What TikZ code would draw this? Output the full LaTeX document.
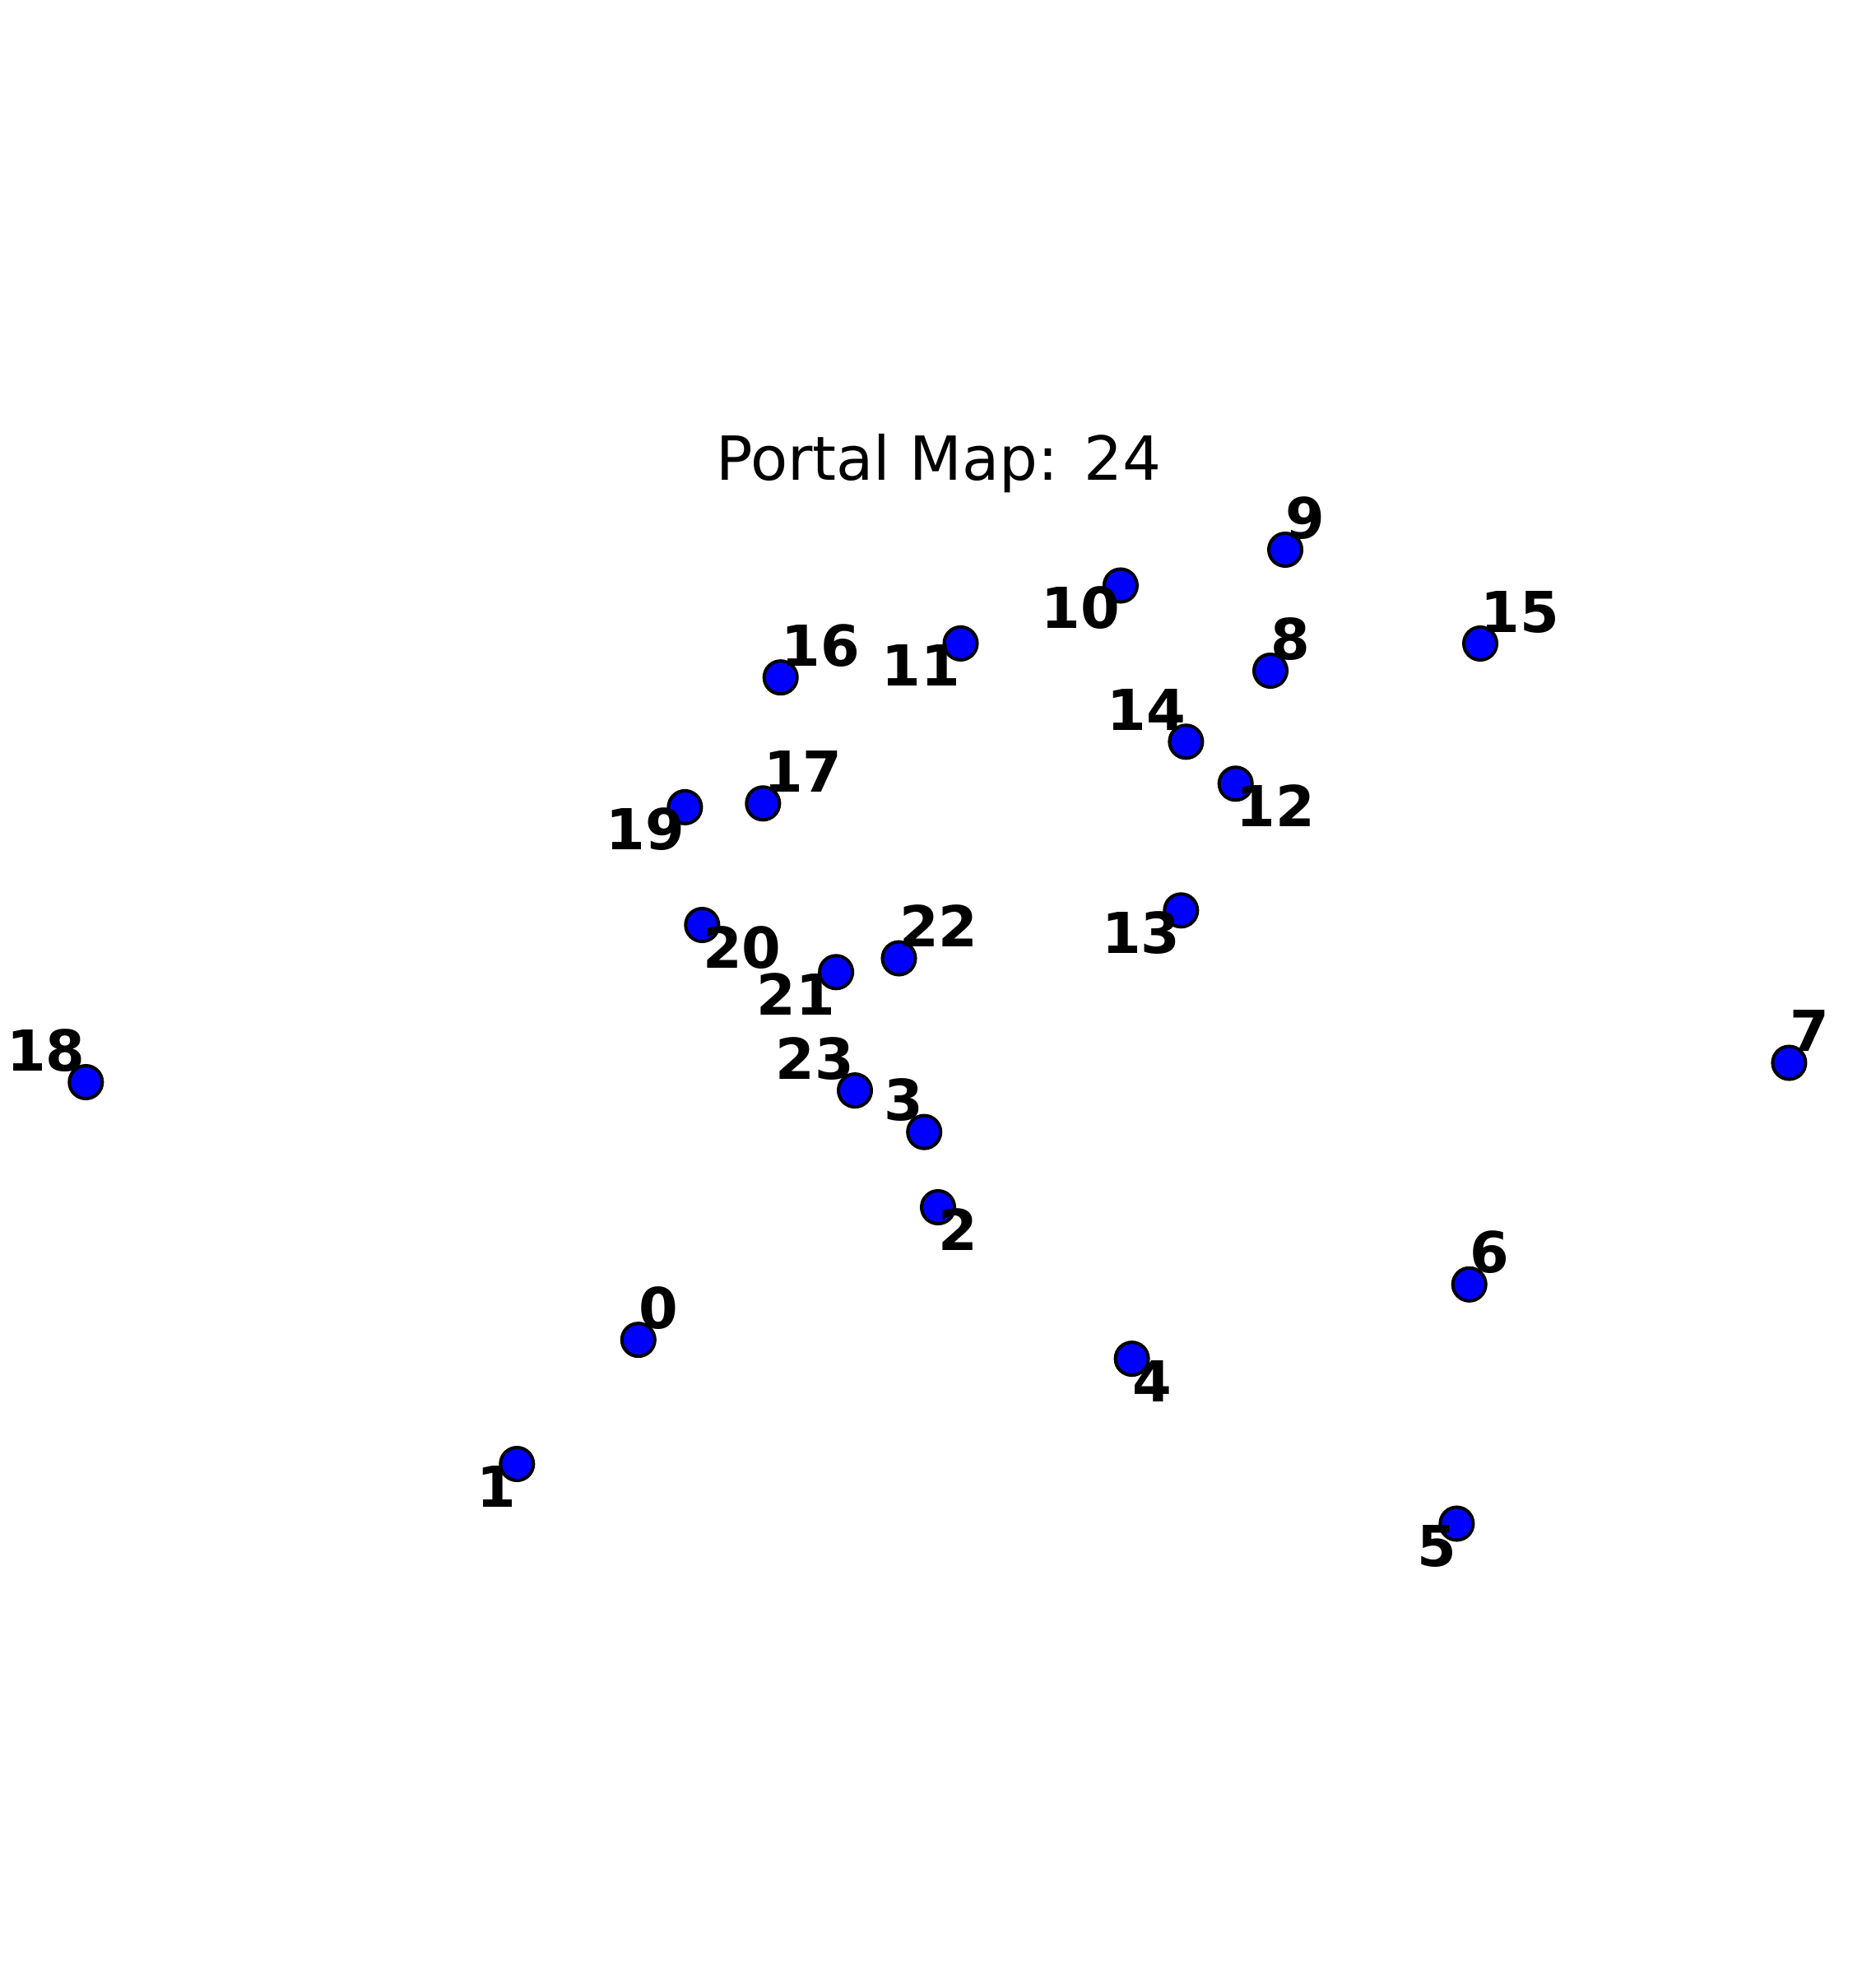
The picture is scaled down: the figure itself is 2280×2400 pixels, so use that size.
\documentclass[tikz,border=0pt]{standalone}
\usepackage{fontspec}
\setmainfont{DejaVu Sans}
\begin{document}
\begin{tikzpicture}[x=0.01cm,y=-0.01cm,
  dot/.style={circle,draw=black,fill=blue,line width=1.15pt,minimum size=0.4cm,inner sep=0pt},
  lab/.style={inner sep=0pt,font=\fontsize{19.5}{20}\selectfont\bfseries},
  ttl/.style={inner sep=0pt,font=\fontsize{21}{22}\selectfont}]
\useasboundingbox[fill=white] (0,0) rectangle (2280,2400);
\node[ttl,anchor=base] (title) at (1141,583) {Portal Map: 24};
% nodes
\node[dot] (n0) at (775.8,1628.1) {};
\node[dot] (n1) at (628.3,1779) {};
\node[dot] (n2) at (1140,1467) {};
\node[dot] (n3) at (1123.2,1375.6) {};
\node[dot] (n4) at (1375.6,1651.1) {};
\node[dot] (n5) at (1770.4,1851.5) {};
\node[dot] (n6) at (1785.7,1560.8) {};
\node[dot] (n7) at (2174.4,1291.5) {};
\node[dot] (n8) at (1544,815) {};
\node[dot] (n9) at (1562,668) {};
\node[dot] (n10) at (1361.9,711.5) {};
\node[dot] (n11) at (1167.5,781.9) {};
\node[dot] (n12) at (1501.7,952.3) {};
\node[dot] (n13) at (1435.3,1106.3) {};
\node[dot] (n14) at (1441.4,901.3) {};
\node[dot] (n15) at (1799,782) {};
\node[dot] (n16) at (948.7,823.2) {};
\node[dot] (n17) at (927.3,976.3) {};
\node[dot] (n18) at (104.3,1315) {};
\node[dot] (n19) at (832.4,980.9) {};
\node[dot] (n20) at (853.3,1124) {};
\node[dot] (n21) at (1016.1,1181.3) {};
\node[dot] (n22) at (1092.5,1164.5) {};
\node[dot] (n23) at (1039.0,1325.1) {};
% labels: above -> baseline y-14, below -> baseline y+52
\path (n0) ++(0,-14) node[lab,anchor=base west] (l0) {0};
\path (n1) ++(0,52) node[lab,anchor=base east] (l1) {1};
\path (n2) ++(0,52) node[lab,anchor=base west] (l2) {2};
\path (n3) ++(0,-14) node[lab,anchor=base east] (l3) {3};
\path (n4) ++(0,52) node[lab,anchor=base west] (l4) {4};
\path (n5) ++(0,52) node[lab,anchor=base east] (l5) {5};
\path (n6) ++(0,-14) node[lab,anchor=base west] (l6) {6};
\path (n7) ++(0,-14) node[lab,anchor=base west] (l7) {7};
\path (n8) ++(0,-14) node[lab,anchor=base west] (l8) {8};
\path (n9) ++(0,-14) node[lab,anchor=base west] (l9) {9};
\path (n10) ++(0,52) node[lab,anchor=base east] (l10) {10};
\path (n11) ++(0,52) node[lab,anchor=base east] (l11) {11};
\path (n12) ++(0,52) node[lab,anchor=base west] (l12) {12};
\path (n13) ++(0,52) node[lab,anchor=base east] (l13) {13};
\path (n14) ++(0,-14) node[lab,anchor=base east] (l14) {14};
\path (n15) ++(0,-14) node[lab,anchor=base west] (l15) {15};
\path (n16) ++(0,-14) node[lab,anchor=base west] (l16) {16};
\path (n17) ++(0,-14) node[lab,anchor=base west] (l17) {17};
\path (n18) ++(0,-14) node[lab,anchor=base east] (l18) {18};
\path (n19) ++(0,52) node[lab,anchor=base east] (l19) {19};
\path (n20) ++(0,52) node[lab,anchor=base west] (l20) {20};
\path (n21) ++(0,52) node[lab,anchor=base east] (l21) {21};
\path (n22) ++(0,-14) node[lab,anchor=base west] (l22) {22};
\path (n23) ++(0,-14) node[lab,anchor=base east] (l23) {23};
\end{tikzpicture}
\end{document}
